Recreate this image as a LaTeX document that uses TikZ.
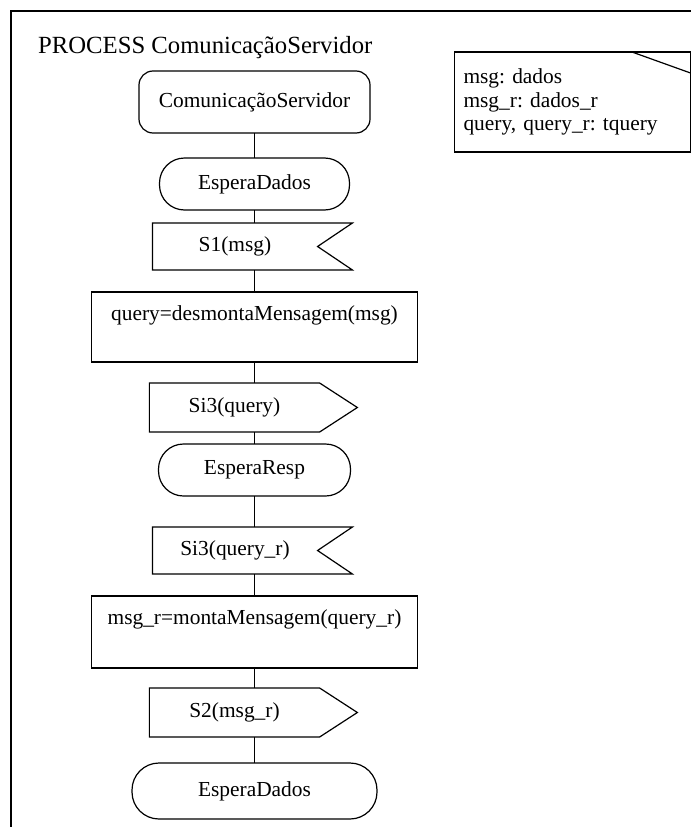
\documentclass[tikz,border=0pt]{standalone}
\usepackage{fontspec}
\setmainfont{Liberation Serif}
\frenchspacing
\usetikzlibrary{positioning, shapes.symbols}

\tikzset{
    sdl/.style={draw, line width=1.2pt, outer sep=0pt, font=\fontsize{21.4}{25}\selectfont},
    startbox/.style={sdl, rectangle, rounded corners=14pt, minimum width=231pt, minimum height=62pt},
    statebox/.style={sdl, rectangle, rounded corners=25pt, minimum height=52pt},
    taskbox/.style={sdl, rectangle, minimum width=326pt, inner ysep=0pt, text height=28.5pt, text depth=41.5pt},
    sendbox/.style={sdl, signal, signal to=east, signal pointer angle=66, minimum width=208pt, minimum height=49pt},
    recvbox/.style={sdl, signal, signal to=nowhere, signal from=east, signal pointer angle=68, minimum width=200pt, minimum height=47pt},
    conn/.style={line width=1.2pt},
}

\begin{document}
\begin{tikzpicture}[x=1pt, y=1pt]
    \useasboundingbox (0,0) rectangle (691,-827);
    \draw[line width=1.6pt] (11,-827) -- (11,-11) -- (691,-11);

    \node[anchor=base west, inner sep=0pt, font=\fontsize{24.7}{29}\selectfont] (title) at (38,-53.5) {PROCESS ComunicaçãoServidor};

    \node[sdl, rectangle, anchor=north west, minimum width=236pt, minimum height=100pt, text width=218pt, inner xsep=9pt, align=left, font=\fontsize{21.4}{23.5}\selectfont] (decl) at (454.5,-52) {msg: dados\\msg\_r: dados\_r\\query, query\_r: tquery};
    \draw[conn] ([xshift=-58.5pt]decl.north east) -- ([yshift=-21pt]decl.north east);

    \node[startbox] (start) at (254.5,-102) {ComunicaçãoServidor};
    \node[statebox, minimum width=190pt, below=25pt of start] (wait1) {EsperaDados};
    \node[recvbox, below=13pt of wait1, xshift=-19.5pt] (recv1) {S1(msg)};
    \node[taskbox, below=22pt of recv1, xshift=19.5pt] (task1) {query=desmontaMensagem(msg)};
    \node[sendbox, below=21pt of task1, xshift=-20pt] (send1) {Si3(query)};
    \node[statebox, minimum width=192pt, below=12pt of send1, xshift=20pt] (wait2) {EsperaResp};
    \node[recvbox, below=31pt of wait2, xshift=-19.5pt] (recv2) {Si3(query\_r)};
    \node[taskbox, text depth=43.5pt, below=22pt of recv2, xshift=19.5pt] (task2) {msg\_r=montaMensagem(query\_r)};
    \node[sendbox, below=20pt of task2, xshift=-20pt] (send2) {S2(msg\_r)};
    \node[statebox, minimum width=245pt, minimum height=56pt, rounded corners=27pt, below=26pt of send2, xshift=20pt] (wait3) {EsperaDados};

    \draw[conn] (start) -- (wait1);
    \draw[conn] (wait1) -- (wait1 |- recv1.north);
    \draw[conn] (recv1.south -| task1) -- (task1);
    \draw[conn] (task1) -- (task1 |- send1.north);
    \draw[conn] (send1.south -| wait2) -- (wait2);
    \draw[conn] (wait2) -- (wait2 |- recv2.north);
    \draw[conn] (recv2.south -| task2) -- (task2);
    \draw[conn] (task2) -- (task2 |- send2.north);
    \draw[conn] (send2.south -| wait3) -- (wait3);
\end{tikzpicture}
\end{document}
